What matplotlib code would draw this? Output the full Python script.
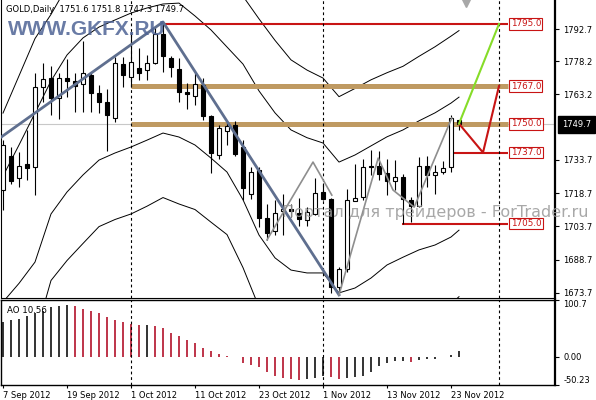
import numpy as np
import matplotlib.pyplot as plt
from matplotlib import transforms

# GOLD daily bars, index 0 = 7 Sep 2012 ... index 57 = 26 Nov 2012
opens = [1720.1, 1735.4, 1725.5, 1731.8, 1730.5, 1766.6, 1770.6, 1761.6, 1770.6, 1769.3,
         1767.9, 1772.0, 1763.8, 1759.8, 1752.6, 1776.9, 1771.1, 1775.1, 1774.2, 1777.4,
         1790.4, 1779.6, 1774.7, 1764.3, 1762.5, 1767.5, 1753.5, 1735.9, 1746.7, 1749.4,
         1739.5, 1718.3, 1729.1, 1707.5, 1701.6, 1710.6, 1711.5, 1709.7, 1706.6, 1709.3,
         1719.2, 1716.1, 1676.4, 1684.5, 1715.2, 1717.0, 1730.9, 1730.9, 1727.8, 1724.2,
         1726.0, 1715.6, 1712.9, 1730.9, 1726.9, 1728.2, 1730.5, 1751.6]
highs = [1742.6, 1739.5, 1737.2, 1747.2, 1772.9, 1777.4, 1776.0, 1772.9, 1779.2, 1772.9,
         1787.3, 1772.9, 1767.5, 1765.6, 1780.1, 1780.1, 1791.3, 1784.1, 1781.0, 1793.5,
         1795.9, 1780.5, 1779.6, 1768.4, 1772.9, 1770.6, 1754.0, 1749.4, 1751.2, 1751.2,
         1742.6, 1730.5, 1730.5, 1713.8, 1715.6, 1718.3, 1714.0, 1716.5, 1712.4, 1725.5,
         1723.3, 1716.5, 1685.4, 1720.6, 1731.8, 1734.1, 1738.1, 1737.7, 1734.1, 1733.6,
         1727.3, 1717.0, 1735.0, 1735.4, 1731.4, 1733.2, 1753.9, 1751.8]
lows = [1711.0, 1722.8, 1721.5, 1724.6, 1717.9, 1759.8, 1753.9, 1752.1, 1762.0, 1755.3,
        1755.3, 1755.3, 1754.8, 1737.7, 1750.8, 1766.6, 1766.6, 1769.7, 1769.7, 1776.9,
        1773.3, 1771.1, 1759.8, 1756.6, 1758.4, 1751.7, 1727.8, 1734.1, 1740.4, 1735.5,
        1715.6, 1716.0, 1703.4, 1697.6, 1699.8, 1699.8, 1708.0, 1703.9, 1703.9, 1709.0,
        1715.6, 1673.7, 1672.8, 1683.1, 1715.0, 1715.6, 1726.9, 1724.6, 1717.9, 1720.1,
        1705.0, 1705.8, 1712.5, 1721.5, 1718.3, 1727.3, 1728.2, 1747.3]
closes = [1740.4, 1724.2, 1730.9, 1730.0, 1766.6, 1770.2, 1761.6, 1770.6, 1769.3, 1767.0,
          1772.9, 1763.8, 1759.8, 1753.9, 1777.4, 1772.0, 1777.8, 1772.9, 1777.4, 1790.4,
          1780.5, 1775.6, 1764.3, 1763.4, 1767.9, 1753.5, 1736.8, 1748.1, 1749.0, 1736.3,
          1721.0, 1728.2, 1707.5, 1700.7, 1709.7, 1711.5, 1710.8, 1707.0, 1710.2, 1718.8,
          1716.1, 1676.4, 1684.5, 1715.6, 1716.5, 1730.5, 1730.5, 1727.3, 1724.2, 1726.0,
          1716.1, 1712.9, 1730.9, 1726.9, 1728.2, 1730.0, 1752.6, 1749.7]

# Awesome Oscillator
ao = [61.9, 64.9, 67.8, 71.8, 77.6, 81.0, 88.0, 89.7, 91.0, 90.5,
      85.2, 81.0, 77.6, 70.6, 64.9, 61.9, 57.9, 55.8, 56.3, 54.4,
      50.4, 42.8, 37.0, 30.1, 24.3, 15.7, 11.0, 5.2, 0.8, -1.2,
      -11.7, -15.1, -17.4, -27.8, -34.8, -38.3, -39.5, -40.7, -39.4, -37.7,
      -35.0, -36.5, -39.5, -37.0, -36.5, -34.5, -26.5, -16.2, -10.4, -7.5,
      -7.2, -8.7, -5.8, -4.6, -4.0, -0.8, 3.5, 10.56]

# band centre and width (inner band = 1 width, outer = 2)
bb_idx = [0, 2, 4, 6, 8, 10, 12, 14, 16, 18, 20, 22, 24, 26, 28, 30, 32, 34, 36,
          38, 40, 42, 44, 46, 48, 50, 52, 54, 56, 57]
bb_mid = [1698.0, 1709.2, 1721.2, 1739.3, 1750.1, 1757.8, 1763.6, 1766.8, 1769.7,
          1772.4, 1774.9, 1774.2, 1769.5, 1763.4, 1756.4, 1746.3, 1732.3, 1722.2,
          1715.6, 1713.2, 1712.0, 1703.2, 1705.9, 1710.2, 1715.2, 1718.5, 1722.2,
          1725.1, 1729.1, 1732.0]
bb_dev = [28.4, 31.2, 33.6, 30.0, 30.9, 30.9, 30.0, 30.0, 30.2, 29.8, 29.1, 30.2,
          29.1, 28.9, 28.2, 30.6, 32.5, 32.7, 31.6, 30.5, 29.3, 29.5, 30.0, 29.8,
          28.9, 28.7, 29.1, 29.8, 30.2, 30.0]

zz_idx = [-1, 20, 42]
zz_price = [1742.0, 1795.9, 1672.8]
wave1_idx = [33, 38.75, 41.1]
wave1_price = [1697.6, 1732.7, 1717.8]
wave2_idx = [42, 46.9, 48.75, 51.4, 56.1]
wave2_price = [1672.8, 1734.5, 1720.1, 1712.4, 1752.6]

levels = [1795.0, 1767.0, 1750.0, 1737.0, 1705.0]
level_start = [20.2, 16, 16, 56.1, 49.9]
level_kind = ['red', 'tan', 'tan', 'red', 'red']

red_idx = [57, 60, 62]
red_price = [1750.0, 1737.0, 1767.0]
green_idx = [57, 62]
green_price = [1750.0, 1795.0]

separators = [16, 40, 62]
price_ticks = [1792.7, 1778.2, 1763.2, 1733.7, 1718.7, 1703.7, 1688.7, 1673.7]
date_idx = [0, 8, 16, 24, 32, 40, 48, 56]
date_labels = ['7 Sep 2012', '19 Sep 2012', '1 Oct 2012', '11 Oct 2012',
               '23 Oct 2012', '1 Nov 2012', '13 Nov 2012', '23 Nov 2012']
last_price = 1749.7

RED = '#c81414'
TAN = '#bf9a62'
plt.rcParams['font.family'] = 'DejaVu Sans'

fig = plt.figure(figsize=(5.96, 4.0), dpi=100)
ax = fig.add_axes([1 / 596, 0.255, 554 / 596, 0.745])
ax2 = fig.add_axes([1 / 596, 15 / 400, 554 / 596, 85 / 400])

idx = np.arange(len(closes))
o, h, l, c = map(np.array, (opens, highs, lows, closes))
up = c >= o

# indicator bands
mid = np.array(bb_mid)
dev = np.array(bb_dev)
for k in (2, 1, -1, -2):
    ax.plot(bb_idx, mid + k * dev, color='black', lw=0.7, zorder=2)

ax.axhline(last_price, color='#c8c8c8', lw=0.8, zorder=1)

for lv, st, kind in zip(levels, level_start, level_kind):
    if kind == 'tan':
        ax.hlines(lv, st, 63.1, color=TAN, lw=3.6, zorder=3)
    else:
        ax.hlines(lv, st, 63.1, color=RED, lw=1.5, zorder=3)
    ax.text(63.45, lv, f'{lv:.1f}', color=RED, fontsize=6.3, ha='left', va='center',
            zorder=8, bbox=dict(boxstyle='square,pad=0.15', fc='white', ec=RED, lw=0.8))

# candles
ax.vlines(idx, l, h, color='black', lw=0.8, zorder=4)
ax.bar(idx[up], c[up] - o[up], bottom=o[up], width=0.55, color='white',
       edgecolor='black', lw=0.8, zorder=5)
ax.bar(idx[~up], o[~up] - c[~up], bottom=c[~up], width=0.55, color='black',
       edgecolor='black', lw=0.8, zorder=5)

ax.plot(zz_idx, zz_price, color='#5f6f8f', lw=2.0, zorder=6)
ax.plot(wave1_idx, wave1_price, color='#8e8e8e', lw=1.2, zorder=6)
ax.plot(wave2_idx, wave2_price, color='#8e8e8e', lw=1.2, zorder=6)
ax.plot(red_idx, red_price, color=RED, lw=1.5, zorder=6)
ax.plot(green_idx, green_price, color='#86dc28', lw=1.5, zorder=6)

for s in separators:
    ax.axvline(s, color='black', lw=0.8, ls=(0, (2.5, 2.5)), zorder=3)
    ax2.axvline(s, color='black', lw=0.8, ls=(0, (2.5, 2.5)), zorder=3)

ax.set_xlim(-0.25, 69)
ax.set_ylim(1671.4, 1805.8)
ax.plot(57.9, 1804.6, marker='v', ms=6, color='#a8a8a8', clip_on=False, zorder=7)

ax.yaxis.tick_right()
ax.set_yticks(price_ticks, [f'{t:.1f}' for t in price_ticks])
ax.set_xticks([])
ax.tick_params(axis='y', direction='out', length=3, width=0.8, pad=3, labelsize=6)
ax.spines['top'].set_visible(False)
ax.spines['right'].set_linewidth(1.6)

trans = transforms.blended_transform_factory(ax.transAxes, ax.transData)
ax.text(1.0 + 7 / 554, last_price, f'{last_price:.1f}', transform=trans, color='white',
        fontsize=6, ha='left', va='center', clip_on=False, zorder=10,
        bbox=dict(boxstyle='square,pad=0.45', fc='black', ec='black'))

# AO panel
ao_arr = np.array(ao)
ao_col = ['#101010'] + ['#b3122a' if ao_arr[i] < ao_arr[i - 1] else '#101010'
                        for i in range(1, len(ao_arr))]
ax2.vlines(idx, 0, ao_arr, colors=ao_col, lw=1.2)
ax2.set_xlim(-0.25, 69)
ax2.set_ylim(-50.23, 100.7)
ax2.yaxis.tick_right()
ax2.set_yticks([100.7, 0, -50.23], ['100.7', '0.00', '-50.23'])
ax2.tick_params(axis='y', direction='out', length=3, width=0.8, pad=3, labelsize=6)
lbls = ax2.get_yticklabels()
lbls[0].set_va('top')
lbls[2].set_va('bottom')
ax2.set_xticks(date_idx, date_labels)
ax2.tick_params(axis='x', direction='out', length=2, width=0.8, pad=2, labelsize=6)
for t in ax2.get_xticklabels():
    t.set_ha('left')
for sp in ax2.spines.values():
    sp.set_linewidth(1.0)
ax2.spines['right'].set_linewidth(1.6)

fig.text(6 / 596, 1 - 12 / 400, 'GOLD,Daily  1751.6 1751.8 1747.3 1749.7',
         fontsize=6, va='baseline')
fig.text(7 / 596, 1 - 313 / 400, 'AO 10.56', fontsize=6.2, va='baseline')
fig.text(8 / 596, 1 - 35 / 400, 'WWW.GKFX.RU', fontsize=15, fontweight='bold',
         family='Liberation Sans', color='#4f6496', alpha=0.85, va='baseline')
fig.text(282 / 596, 1 - 212 / 400, 'Портал для трейдеров - ForTrader.ru',
         fontsize=11.5, color='#999999', alpha=0.85, va='center')

fig.savefig('out.png', dpi=100)
